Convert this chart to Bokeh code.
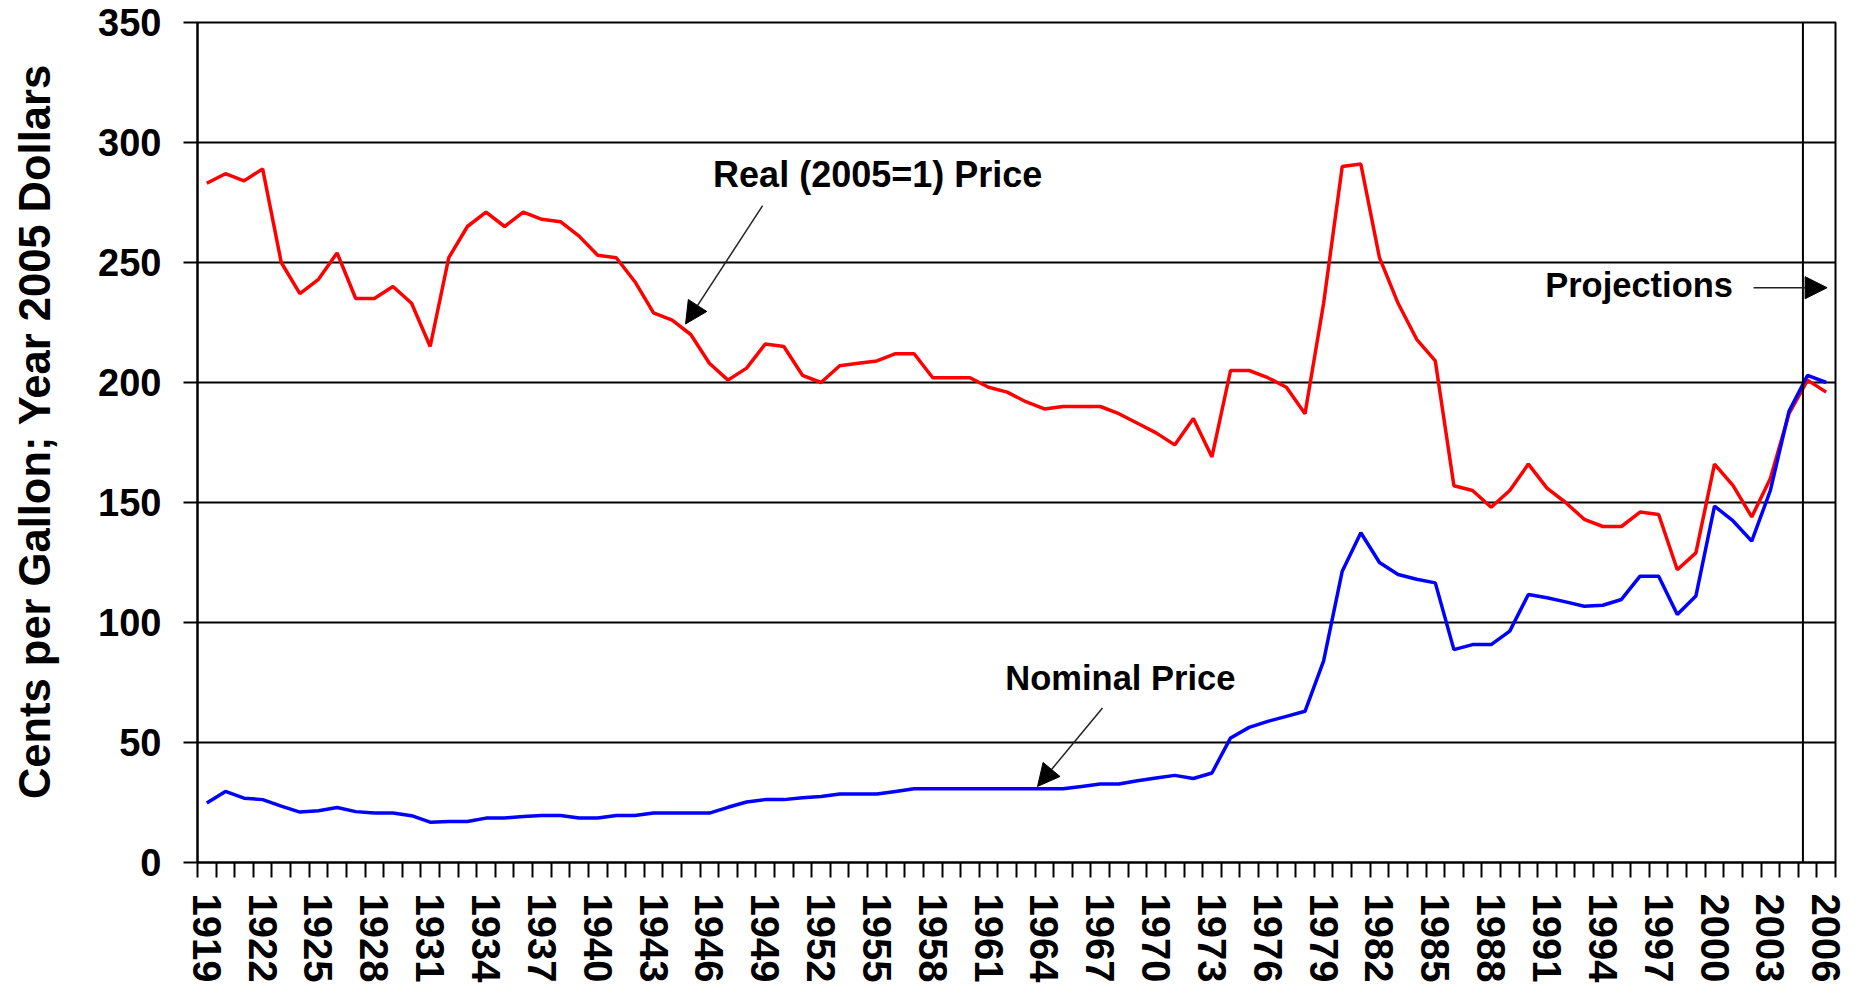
from bokeh.plotting import figure
from bokeh.models import FixedTicker, Arrow, NormalHead, Span, Label, Range1d
from bokeh.embed import file_html
from bokeh.resources import INLINE

years = list(range(1919, 2007))
real_price = [283, 287, 284, 289, 250, 237, 243, 254, 235, 235,
              240, 233, 215, 252, 265, 271, 265, 271, 268, 267,
              261, 253, 252, 242, 229, 226, 220, 208, 201, 206,
              216, 215, 203, 200, 207, 208, 209, 212, 212, 202,
              202, 202, 198, 196, 192, 189, 190, 190, 190, 187,
              183, 179, 174, 185, 169, 205, 205, 202, 198, 187,
              233, 290, 291, 252, 233, 218, 209, 157, 155, 148,
              155, 166, 156, 150, 143, 140, 140, 146, 145, 122,
              129, 166, 157, 144, 160, 187, 201, 196]
nominal_price = [24.8, 29.6, 26.8, 26.2, 23.5, 21.0, 21.6, 22.9, 21.2, 20.6,
                 20.6, 19.5, 16.8, 17.1, 17.1, 18.5, 18.5, 19.2, 19.6, 19.6,
                 18.5, 18.5, 19.6, 19.6, 20.6, 20.6, 20.6, 20.6, 23.0, 25.2,
                 26.2, 26.2, 27.0, 27.5, 28.5, 28.5, 28.5, 29.6, 30.7, 30.7,
                 30.7, 30.7, 30.7, 30.7, 30.7, 30.7, 30.7, 31.7, 32.7, 32.7,
                 34.1, 35.2, 36.3, 35.0, 37.3, 51.9, 56.3, 58.8, 60.9, 63.0,
                 84.0, 121.4, 137.4, 125.0, 120.0, 118.0, 116.5, 88.7, 90.8, 90.8,
                 96.4, 111.7, 110.3, 108.6, 106.8, 107.2, 109.6, 119.3, 119.3, 103.3,
                 111.0, 148.5, 142.3, 133.9, 155.0, 188.0, 203.0, 200.0]
label_years = list(range(1919, 2007, 3))
y_ticks = [0, 50, 100, 150, 200, 250, 300, 350]
y_title = "Cents per Gallon; Year 2005 Dollars"

FONT = "Liberation Sans"

p = figure(width=1852, height=992,
           x_range=Range1d(1918.5, 2006.5), y_range=Range1d(0, 350),
           output_backend="svg", toolbar_location=None,
           min_border_left=197, min_border_right=17,
           min_border_top=22, min_border_bottom=130)

p.background_fill_color = "white"
p.border_fill_color = "white"
p.outline_line_color = "black"
p.outline_line_width = 2

# grid
p.xgrid.grid_line_color = None
p.ygrid.ticker = FixedTicker(ticks=y_ticks)
p.ygrid.grid_line_color = "black"
p.ygrid.grid_line_width = 2
p.ygrid.grid_line_alpha = 1.0

# x axis
xa = p.xaxis[0]
xa.ticker = FixedTicker(ticks=label_years,
                        minor_ticks=[y - 0.5 for y in years] + [years[-1] + 0.5])
xa.major_tick_out = 0
xa.major_tick_in = 0
xa.minor_tick_out = 15
xa.minor_tick_in = 0
xa.minor_tick_line_color = "black"
xa.minor_tick_line_width = 2
xa.axis_line_color = "black"
xa.axis_line_width = 2
xa.major_label_orientation = "vertical"
xa.major_label_standoff = 16
xa.major_label_text_font = FONT
xa.major_label_text_font_style = "bold"
xa.major_label_text_font_size = "40px"
xa.major_label_text_color = "black"

# y axis
ya = p.yaxis[0]
ya.ticker = FixedTicker(ticks=y_ticks)
ya.major_tick_out = 14
ya.major_tick_in = 0
ya.minor_tick_out = 0
ya.minor_tick_in = 0
ya.major_tick_line_width = 2
ya.major_tick_line_color = "black"
ya.axis_line_color = "black"
ya.axis_line_width = 2
ya.major_label_standoff = 22
ya.major_label_text_font = FONT
ya.major_label_text_font_style = "bold"
ya.major_label_text_font_size = "38px"
ya.major_label_text_color = "black"
# a leading en space nudges the centred title slightly upward, as in the original
ya.axis_label = "\u2002" + y_title
ya.axis_label_text_font = FONT
ya.axis_label_text_font_style = "bold"
ya.axis_label_text_font_size = "43.5px"
ya.axis_label_text_color = "black"
ya.axis_label_standoff = 36

# data lines
p.line(years, real_price, line_color="#FF0000", line_width=3.5)
p.line(years, nominal_price, line_color="#0000FF", line_width=3.5)

# projections divider
p.add_layout(Span(location=2004.75, dimension="height", line_color="black", line_width=2))

# annotations
def add_label(x, y, txt, size):
    p.add_layout(Label(x=x, y=y, text=txt, text_font=FONT, text_font_style="bold",
                       text_font_size=size, text_color="black",
                       text_baseline="alphabetic", text_align="left"))

add_label(1946.2, 286.8, "Real (2005=1) Price", "36px")
add_label(1961.9, 77.0, "Nominal Price", "34.5px")
add_label(1990.9, 240.8, "Projections", "34.5px")

def add_arrow(x0, y0, x1, y1):
    p.add_layout(Arrow(x_start=x0, y_start=y0, x_end=x1, y_end=y1,
                       line_color="#222222", line_width=1.5,
                       end=NormalHead(size=22, fill_color="black", line_color="black")))

add_arrow(1948.86, 273.7, 1944.72, 224.4)
add_arrow(1967.12, 64.4, 1963.63, 31.7)
add_arrow(2002.1, 239.5, 2006.05, 239.5)

open("out.html", "w").write(file_html(p, INLINE))
